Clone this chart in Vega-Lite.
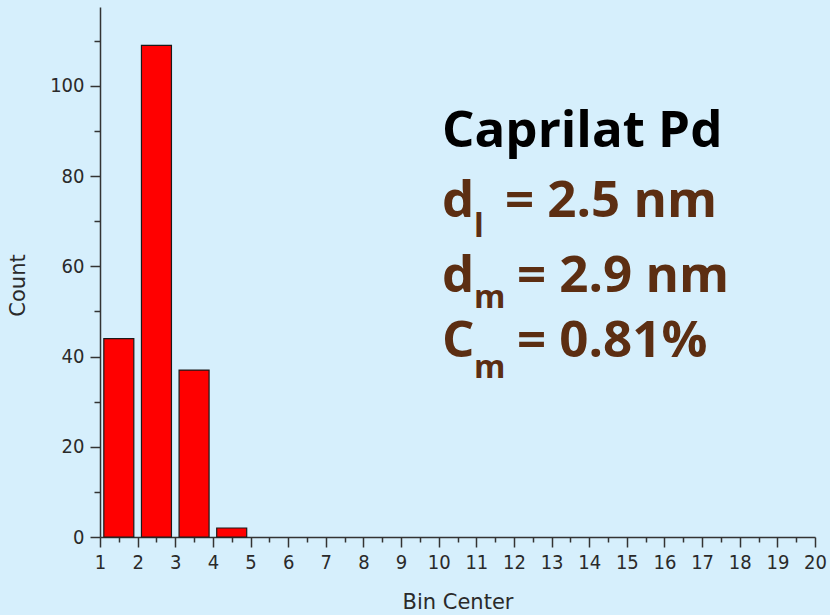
{
  "$schema": "https://vega.github.io/schema/vega-lite/v6.json",
  "width": 715,
  "height": 530,
  "autosize": "none",
  "padding": {"left": 100, "top": 7, "right": 15, "bottom": 78},
  "background": "#d6effc",
  "config": {
    "view": {"stroke": null},
    "axis": {
      "domainColor": "#333333",
      "domainWidth": 1.5,
      "tickColor": "#333333",
      "tickWidth": 1.5,
      "labelFont": "DejaVu Sans Condensed, DejaVu Sans",
      "labelFontSize": 20,
      "labelColor": "#2a2a2a",
      "titleFont": "DejaVu Sans",
      "titleFontSize": 21,
      "titleFontWeight": "normal",
      "titleColor": "#2a2a2a",
      "grid": false
    }
  },
  "datasets": {
    "bins": [
      {"bin_center": 1.5, "count": 44},
      {"bin_center": 2.5, "count": 109},
      {"bin_center": 3.5, "count": 37},
      {"bin_center": 4.5, "count": 2}
    ],
    "labels": [
      {"role": "title", "text": "Caprilat Pd", "x": 10.09, "y": 86.53},
      {"role": "main", "text": "d", "x": 10.09, "y": 70.94},
      {"role": "sub", "text": "l", "x": 10.94, "y": 66.51},
      {"role": "main", "text": "= 2.5 nm", "x": 11.76, "y": 70.94},
      {"role": "main", "text": "d", "x": 10.09, "y": 54.32},
      {"role": "sub", "text": "m", "x": 10.94, "y": 50.77},
      {"role": "main", "text": "= 2.9 nm", "x": 12.08, "y": 54.32},
      {"role": "main", "text": "C", "x": 10.09, "y": 39.9},
      {"role": "sub", "text": "m", "x": 10.94, "y": 35.25},
      {"role": "main", "text": "= 0.81%", "x": 12.08, "y": 39.9}
    ]
  },
  "layer": [
    {
      "data": {"name": "bins"},
      "mark": {"type": "bar", "width": 30, "fill": "#ff0000", "stroke": "#1a1a1a", "strokeWidth": 1.2},
      "encoding": {
        "x": {
          "field": "bin_center", "type": "quantitative",
          "scale": {"domain": [1, 20], "nice": false, "zero": false, "padding": 0},
          "axis": {
            "orient": "bottom",
            "values": [1,2,3,4,5,6,7,8,9,10,11,12,13,14,15,16,17,18,19,20],
            "tickSize": 10, "labelPadding": 5, "labelFlush": false, "labelOverlap": false,
            "title": "Bin Center", "titleY": 71, "titleBaseline": "alphabetic"
          }
        },
        "y": {
          "field": "count", "type": "quantitative",
          "scale": {"domain": [0, 117.5], "nice": false, "padding": 0},
          "axis": {
            "orient": "left",
            "values": [0, 20, 40, 60, 80, 100],
            "tickSize": 10, "labelPadding": 6, "labelFlush": false,
            "title": "Count", "titleX": -82, "titleY": 278, "titleBaseline": "middle", "titleAlign": "center", "titleAngle": -90
          }
        }
      }
    },
    {
      "data": {"name": "bins"},
      "mark": {"type": "point", "opacity": 0},
      "encoding": {
        "x": {
          "field": "bin_center", "type": "quantitative",
          "axis": {
            "orient": "bottom",
            "values": [1.5,2.5,3.5,4.5,5.5,6.5,7.5,8.5,9.5,10.5,11.5,12.5,13.5,14.5,15.5,16.5,17.5,18.5,19.5],
            "tickSize": 5, "labels": false, "domain": false, "title": null
          }
        },
        "y": {
          "field": "count", "type": "quantitative",
          "axis": {
            "orient": "left",
            "values": [10, 30, 50, 70, 90, 110],
            "tickSize": 6, "labels": false, "domain": false, "title": null
          }
        }
      }
    },
    {
      "data": {"name": "labels"},
      "transform": [{"filter": "datum.role === 'title'"}],
      "mark": {"type": "text", "font": "Open Sans", "fontWeight": "bold", "fontSize": 51, "color": "#000000", "align": "left", "baseline": "alphabetic"},
      "encoding": {
        "x": {"field": "x", "type": "quantitative", "axis": null},
        "y": {"field": "y", "type": "quantitative", "axis": null},
        "text": {"field": "text"}
      }
    },
    {
      "data": {"name": "labels"},
      "transform": [{"filter": "datum.role === 'main'"}],
      "mark": {"type": "text", "font": "Open Sans", "fontWeight": "bold", "fontSize": 51, "color": "#5c2e12", "align": "left", "baseline": "alphabetic"},
      "encoding": {
        "x": {"field": "x", "type": "quantitative", "axis": null},
        "y": {"field": "y", "type": "quantitative", "axis": null},
        "text": {"field": "text"}
      }
    },
    {
      "data": {"name": "labels"},
      "transform": [{"filter": "datum.role === 'sub'"}],
      "mark": {"type": "text", "font": "Open Sans", "fontWeight": "bold", "fontSize": 32, "color": "#5c2e12", "align": "left", "baseline": "alphabetic"},
      "encoding": {
        "x": {"field": "x", "type": "quantitative", "axis": null},
        "y": {"field": "y", "type": "quantitative", "axis": null},
        "text": {"field": "text"}
      }
    }
  ],
  "resolve": {"axis": {"x": "independent", "y": "independent"}}
}
